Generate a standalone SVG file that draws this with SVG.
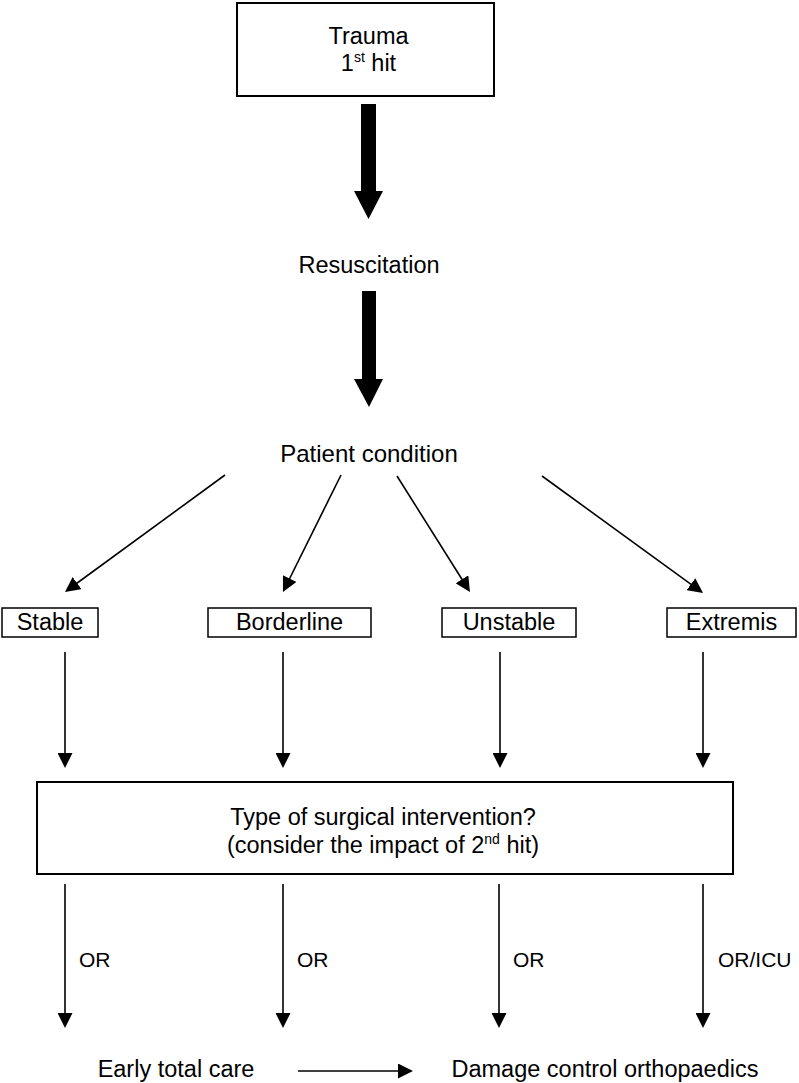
<svg xmlns="http://www.w3.org/2000/svg" width="799" height="1083" viewBox="0 0 799 1083">
<style>
text{font-family:"Liberation Sans",Arial,sans-serif;font-size:23.5px;fill:#000;text-anchor:middle}
.lbl{font-size:21px;text-anchor:start}
.box{fill:#fff;stroke:#000;stroke-width:1.5}
.con{stroke:#000;stroke-width:1.6;fill:none;marker-end:url(#ah)}
.thick{fill:#000;stroke:none}
</style>
<defs>
<marker id="ah" viewBox="0 0 15 15" refX="10" refY="7.5" markerWidth="15" markerHeight="15" markerUnits="userSpaceOnUse" orient="auto">
<path d="M0,0 L15,7.5 L0,15 z" fill="#000"/>
</marker>
</defs>
<g id="trauma">
<rect class="box" x="237" y="3" width="257" height="93" style="stroke-width:2"/>
<text x="368.5" y="44">Trauma</text>
<text x="368.5" y="71">1<tspan font-size="14" dy="-9">st</tspan><tspan dy="9"> hit</tspan></text>
</g>
<g id="resuscitation"><text x="369" y="273">Resuscitation</text></g>
<g id="patient-condition"><text x="369" y="462" style="font-size:24px">Patient condition</text></g>
<g id="stable"><rect class="box" x="2" y="608" width="96" height="29"/><text x="50" y="630">Stable</text></g>
<g id="borderline"><rect class="box" x="208" y="608" width="163" height="29"/><text x="289.5" y="630">Borderline</text></g>
<g id="unstable"><rect class="box" x="442" y="608" width="134" height="29"/><text x="509" y="630">Unstable</text></g>
<g id="extremis"><rect class="box" x="667" y="608" width="129" height="29"/><text x="731.5" y="630">Extremis</text></g>
<g id="surgical-intervention">
<rect class="box" x="37" y="782" width="696" height="92" style="stroke-width:2"/>
<text x="383" y="825">Type of surgical intervention?</text>
<text x="383" y="853">(consider the impact of 2<tspan font-size="14" dy="-9">nd</tspan><tspan dy="9"> hit)</tspan></text>
</g>
<g id="early-total-care"><text x="176" y="1077">Early total care</text></g>
<g id="damage-control"><text x="605" y="1077">Damage control orthopaedics</text></g>
<g id="connectors">
<polygon class="thick" points="361,104 376,104 376,191 383,191 368.5,219 354,191 361,191"/>
<polygon class="thick" points="362,291 376,291 376,379 383,379 369,407 354,379 362,379"/>
<line class="con" x1="225" y1="475" x2="69" y2="589"/>
<line class="con" x1="341" y1="475" x2="285.2" y2="587.5"/>
<line class="con" x1="397" y1="476" x2="467.3" y2="587.8"/>
<line class="con" x1="542" y1="476" x2="699" y2="590.1"/>
<line class="con" x1="65" y1="652" x2="65" y2="763"/>
<line class="con" x1="283" y1="652" x2="283" y2="763"/>
<line class="con" x1="500" y1="652" x2="500" y2="763"/>
<line class="con" x1="703" y1="652" x2="703" y2="763"/>
<line class="con" x1="65" y1="884" x2="65" y2="1023"/>
<line class="con" x1="283" y1="884" x2="283" y2="1023"/>
<line class="con" x1="499" y1="884" x2="499" y2="1023"/>
<line class="con" x1="703" y1="884" x2="703" y2="1023"/>
<line class="con" x1="298" y1="1071" x2="408" y2="1071"/>
<text class="lbl" x="79" y="967">OR</text>
<text class="lbl" x="297" y="967">OR</text>
<text class="lbl" x="513" y="967">OR</text>
<text class="lbl" x="718" y="967">OR/ICU</text>
</g>
</svg>
